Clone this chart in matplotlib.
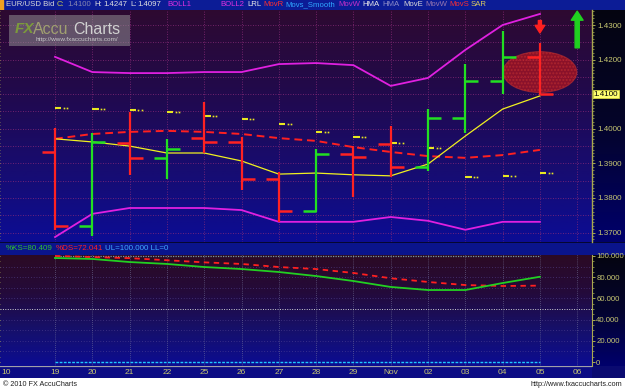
import numpy as np
import matplotlib.pyplot as plt
from matplotlib.patches import Ellipse, Rectangle
from matplotlib.colors import LinearSegmentedColormap
import matplotlib.transforms as mtransforms

# data
dates = ['19', '20', '21', '22', '25', '26', '27', '28', '29', 'Nov', '02', '03', '04', '05']
axis_labels = dates + ['06']
opens = [1.3933, 1.3719, 1.3959, 1.3916, 1.3973, 1.3962, 1.3855, 1.3762, 1.3927, 1.3956, 1.3890, 1.4031, 1.4138, 1.4208]
highs = [1.4002, 1.3988, 1.4049, 1.3970, 1.4078, 1.3976, 1.3875, 1.3942, 1.3950, 1.4008, 1.4057, 1.4187, 1.4283, 1.4247]
lows = [1.3708, 1.3690, 1.3866, 1.3855, 1.3930, 1.3823, 1.3731, 1.3760, 1.3803, 1.3861, 1.3878, 1.3988, 1.4100, 1.4097]
closes = [1.3719, 1.3962, 1.3916, 1.3942, 1.3962, 1.3855, 1.3762, 1.3927, 1.3918, 1.3890, 1.4031, 1.4138, 1.4208, 1.4100]

boll_up = [1.4208, 1.4164, 1.4161, 1.4161, 1.4164, 1.4164, 1.4187, 1.4190, 1.4184, 1.4124, 1.4147, 1.4228, 1.4300, 1.4332]
boll_dn = [1.3687, 1.3754, 1.3771, 1.3771, 1.3771, 1.3765, 1.3731, 1.3731, 1.3731, 1.3745, 1.3734, 1.3708, 1.3731, 1.3731]
lrl = [1.3971, 1.3962, 1.3950, 1.3930, 1.3930, 1.3907, 1.3869, 1.3872, 1.3867, 1.3864, 1.3898, 1.3979, 1.4057, 1.4095]
mov_r = [1.3971, 1.3985, 1.3991, 1.3994, 1.3991, 1.3985, 1.3973, 1.3965, 1.3947, 1.3933, 1.3921, 1.3916, 1.3924, 1.3939]
sar = [1.4060, 1.4057, 1.4054, 1.4049, 1.4037, 1.4028, 1.4014, 1.3991, 1.3976, 1.3959, 1.3944, 1.3861, 1.3864, 1.3872]

stoch_k = [98.1, 97.2, 94.3, 92.5, 89.6, 87.7, 84.9, 81.1, 76.4, 70.8, 67.9, 67.9, 74.5, 80.409]
stoch_d = [100.0, 99.0, 98.0, 96.0, 94.0, 92.5, 89.6, 87.7, 84.0, 79.0, 75.5, 72.6, 71.7, 72.041]

price_ticks = [1.37, 1.38, 1.39, 1.40, 1.42, 1.43]   # 1.41 is covered by the last-price box
stoch_ticks = [0, 20, 40, 60, 80, 100]
stoch_labels = ['0', '20.000', '40.000', '60.000', '80.000', '100.000']

W, H = 625, 389
FONT = 'Liberation Sans'
LBL = '#c8c872'
XLIM = (-55 / 37.3, (592 - 55) / 37.3)

fig = plt.figure(figsize=(W / 100, H / 100), dpi=100)
fig.patch.set_facecolor('white')


def px_axes(x0, y0, x1, y1, z=0):
    return fig.add_axes([x0 / W, 1 - y1 / H, (x1 - x0) / W, (y1 - y0) / H], zorder=z)


def gradient(a, colors):
    # first colour at the top
    cmap = LinearSegmentedColormap.from_list('g', colors)
    g = np.linspace(0, 1, 256).reshape(-1, 1)
    a.imshow(g, cmap=cmap, aspect='auto', extent=(0, 1, 0, 1), origin='upper',
             transform=a.transAxes, zorder=0, interpolation='bilinear')


def blank(a):
    a.set_xticks([])
    a.set_yticks([])
    for s in a.spines.values():
        s.set_visible(False)


x = np.arange(len(dates))

# header bar
hdr = px_axes(0, 0, 625, 10)
hdr.set_facecolor('#0c1c96')
blank(hdr)
hdr.add_patch(Rectangle((0, 0), 2.5 / W, 1, transform=hdr.transAxes, color='#f0a020'))
header = [('EUR/USD Bid', 6, '#d8d8d8'), ('C:', 57, '#c8c850'), ('1.4100', 67, '#8888b0'),
          ('H:', 94, '#e0e0e0'), ('1.4247', 103, '#e0e0e0'), ('L:', 130, '#e0e0e0'),
          ('1.4097', 137, '#e0e0e0'), ('BOLL1', 167, '#e030e0'), ('BOLL2', 220, '#e030e0'),
          ('LRL', 247, '#e8e8e8'), ('MovR', 263, '#ff3030'), ('Movs_Smooth', 285, '#30a8ff'),
          ('MovW', 338, '#c830c8'), ('HMA', 362, '#e8e8e8'), ('HMA', 382, '#8c8cc8'),
          ('MovE', 403, '#d8d8d8'), ('MovW', 425, '#9878b0'), ('MovS', 449, '#ff3030'),
          ('SAR', 471, '#d8c860')]
for txt, px, col in header:
    hdr.text(px / W, 0.5, txt, color=col, fontsize=5.6, family=FONT, va='center', ha='left')

# right price panel background
rp = px_axes(592, 10, 625, 242)
gradient(rp, ['#050510', '#04042a', '#00006c'])
blank(rp)

# main price panel
ax = px_axes(0, 10, 592, 242, z=2)
gradient(ax, ['#2e0a30', '#22094a', '#180c6e', '#0c0c94'])
ax.set_xlim(*XLIM)
ax.set_ylim(1.36727, 1.43434)

for yv in np.arange(1.370, 1.4351, 0.005):
    ax.axhline(yv, color='#8a2a78', lw=0.6, ls=(0, (1, 2)), zorder=1)
for xv in range(len(axis_labels)):
    ax.axvline(xv, color='#8a2a78', lw=0.6, ls=(0, (1, 2)), zorder=1)

ax.plot(x, boll_up, color='#e020e0', lw=1.3, zorder=3)
ax.plot(x, boll_dn, color='#e020e0', lw=1.3, zorder=3)
ax.plot(x, mov_r, color='#ff2020', lw=1.4, dashes=(4, 2.5), zorder=3)
ax.plot(x, lrl, color='#f0f020', lw=0.9, zorder=4)

ax.hlines(sar, x, x + 0.17, color='#e8e820', lw=1.5, zorder=4)
ax.plot(x + 0.235, sar, 's', color='#e8e820', ms=1.2, mew=0, zorder=4)
ax.plot(x + 0.32, sar, 's', color='#e8e820', ms=1.2, mew=0, zorder=4)

ell = Ellipse((13, 1.4164), 1.98, 0.0118, facecolor='#d01818', edgecolor='#c03030',
              alpha=0.6, lw=0.8, zorder=4, hatch='.....')
ax.add_patch(ell)

for i in range(len(dates)):
    col = '#22e022' if closes[i] >= opens[i] else '#ff2222'
    ax.vlines(i, lows[i], highs[i], color=col, lw=1.6, zorder=5)
    ax.hlines(opens[i], i - 0.35, i, color=col, lw=1.8, zorder=5)
    ax.hlines(closes[i], i, i + 0.35, color=col, lw=1.8, zorder=5)

# signal arrows
ax.annotate('', xy=(13, 1.4277), xytext=(13, 1.4313),
            arrowprops=dict(arrowstyle='simple,head_width=7,head_length=5.5,tail_width=2.2',
                            color='#ff2020', mutation_scale=1, shrinkA=0, shrinkB=0), zorder=6)
ax.annotate('', xy=(14, 1.4340), xytext=(14, 1.4234),
            arrowprops=dict(arrowstyle='simple,head_width=8.5,head_length=6.5,tail_width=3',
                            color='#20d020', mutation_scale=1, shrinkA=0, shrinkB=0), zorder=6)

for s in ['top', 'left', 'bottom']:
    ax.spines[s].set_visible(False)
ax.spines['right'].set_color('#a8a850')
ax.spines['right'].set_linewidth(1)
ax.set_xticks([])
ax.yaxis.tick_right()
ax.set_yticks(price_ticks)
ax.set_yticks(np.arange(1.368, 1.4341, 0.001), minor=True)
ax.set_yticklabels(['%.4f' % v for v in price_ticks])
ax.tick_params(axis='y', which='both', right=True, left=True, labelleft=False, labelright=True,
               colors='#a8a850', labelcolor=LBL, labelsize=5.8, pad=1.2)
ax.tick_params(axis='y', which='major', length=2.5, width=0.7)
ax.tick_params(axis='y', which='minor', length=1.3, width=0.5)
for t in ax.get_yticklabels():
    t.set_family(FONT)

price_tf = mtransforms.blended_transform_factory(ax.transAxes, ax.transData)
ax.text(1.003, closes[-1], '%.4f' % closes[-1], transform=price_tf, fontsize=5.8, family=FONT,
        color='black', va='center', ha='left', clip_on=False, zorder=10,
        bbox=dict(facecolor='#ffff70', edgecolor='#e0e040', pad=0.6, lw=0.5))

# watermark
wm = Rectangle((9 / W, 1 - 46 / H), 121 / W, 31 / H, transform=fig.transFigure,
               facecolor='#9a9a9a', alpha=0.5, edgecolor='none', zorder=20)
fig.add_artist(wm)
fig.text(15 / W, 1 - 29 / H, 'FX', color='#7c9a3c', fontsize=11, family=FONT, weight='bold',
         style='italic', va='center', ha='left', zorder=21)
fig.text(33 / W, 1 - 29 / H, 'Accu', color='#a0a070', fontsize=11.5, family=FONT,
         va='center', ha='left', zorder=21)
fig.text(73 / W, 1 - 29 / H, 'Charts', color='#d0d0d0', fontsize=11.5, family=FONT,
         va='center', ha='left', zorder=21)
fig.text(36 / W, 1 - 40 / H, 'http://www.fxaccucharts.com/', color='#c8c8c8', fontsize=4.6,
         family=FONT, va='center', ha='left', zorder=21)

# lower header
lh = px_axes(0, 242, 625, 255)
lh.set_facecolor('#0a148c')
blank(lh)
lh.axhline(1, color='#050520', lw=1.2)
lh.text(6 / W, 0.5, '%KS=80.409', color='#30c030', fontsize=5.8, family=FONT, va='center')
lh.text(56 / W, 0.5, '%DS=72.041', color='#ff2020', fontsize=5.8, family=FONT, va='center')
lh.text(105 / W, 0.5, 'UL=100.000 LL=0', color='#40a8ff', fontsize=5.8, family=FONT, va='center')

# lower right panel
lrp = px_axes(592, 255, 625, 366)
gradient(lrp, ['#050510', '#04042e', '#00006c'])
blank(lrp)

# stochastic panel
ax2 = px_axes(0, 255, 592, 366, z=2)
gradient(ax2, ['#2c0a24', '#240a3a', '#16106a', '#0c0c92'])
ax2.set_xlim(*XLIM)
ax2.set_ylim(-3.77, 100.94)
for yv in [10, 20, 30, 40, 60, 70, 80, 90]:
    ax2.axhline(yv, color='#5a4a9a', lw=0.5, ls=(0, (1, 3)), zorder=1)
for xv in range(len(axis_labels)):
    ax2.axvline(xv, color='#7a7aa0', lw=0.5, ls=(0, (1, 2)), zorder=1)
ax2.axhline(50, color='#d0d0d0', lw=0.7, ls=(0, (1, 1.5)), zorder=2)
ax2.hlines(100, 0, 13, color='#7a9a9a', lw=0.9, ls=(0, (1, 1)), zorder=2)
ax2.hlines(0, 0, 13, color='#20c8ff', lw=1.0, ls=(0, (2, 1)), zorder=2)
ax2.plot(x, stoch_d, color='#ff2020', lw=1.3, dashes=(3, 2.5), zorder=3)
ax2.plot(x, stoch_k, color='#22d022', lw=1.3, zorder=4)

for s in ['top', 'left', 'bottom']:
    ax2.spines[s].set_visible(False)
ax2.spines['right'].set_color('#a8a850')
ax2.set_xticks([])
ax2.yaxis.tick_right()
ax2.set_yticks(stoch_ticks)
ax2.set_yticklabels(stoch_labels)
ax2.set_yticks(np.arange(0, 101, 5), minor=True)
ax2.tick_params(axis='y', which='both', right=True, left=True, labelleft=False, labelright=True,
                colors='#a8a850', labelcolor=LBL, labelsize=5.6, pad=1.0)
ax2.tick_params(axis='y', which='major', length=2, width=0.7)
ax2.tick_params(axis='y', which='minor', length=1.2, width=0.5)
for t in ax2.get_yticklabels():
    t.set_family(FONT)

# date strip
xs = px_axes(0, 366, 592, 378)
xs.set_facecolor('#0c0c84')
blank(xs)
xs.set_xlim(*XLIM)
xs.set_ylim(0, 1)
xs.axhline(1, color='#a0a0a8', lw=1.6)
xs.text(-1.3, 0.42, '10', color=LBL, fontsize=6, family=FONT, ha='center', va='center')
for i, lab in enumerate(axis_labels):
    xs.text(i, 0.42, lab, color=LBL, fontsize=6, family=FONT, ha='center', va='center')
xr = px_axes(592, 366, 625, 378)
xr.set_facecolor('#0a0a70')
blank(xr)

# footer
fig.text(3 / W, 1 - 384 / H, '\u00a9 2010 FX AccuCharts', fontsize=5.2, family=FONT,
         color='#202020', va='center', ha='left')
fig.text(622 / W, 1 - 384 / H, 'http://www.fxaccucharts.com', fontsize=5.2, family=FONT,
         color='#202020', va='center', ha='right')

fig.savefig('out.png', dpi=100)
